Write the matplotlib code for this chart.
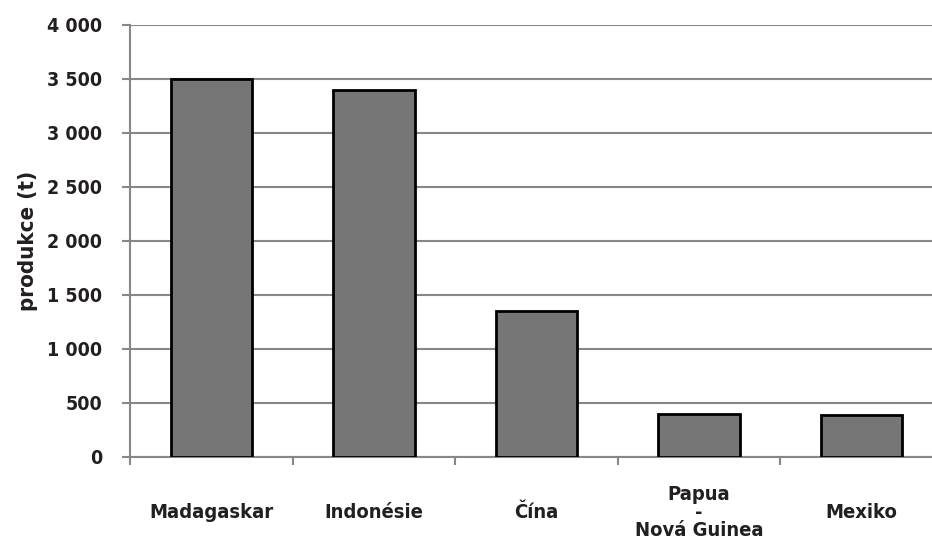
import numpy as np
import matplotlib.pyplot as plt

zeme = ["Madagaskar", "Indonésie", "Čína", "Papua\n-\nNová Guinea", "Mexiko"]
produkce = [3500, 3400, 1350, 400, 390]
y_ticks = [0, 500, 1000, 1500, 2000, 2500, 3000, 3500, 4000]
y_labels = ["0", "500", "1 000", "1 500", "2 000", "2 500", "3 000", "3 500", "4 000"]

plt.rcParams['font.family'] = ['DejaVu Sans']
plt.rcParams['font.weight'] = 'bold'
plt.rcParams['font.stretch'] = 'condensed'

grey = "#878787"
txt = "#231f20"
fig = plt.figure(figsize=(9.32, 5.41), dpi=100)
ax = fig.add_axes([130/932, 84/541, 813/932, 432/541])

x = np.arange(len(zeme))
ax.set_axisbelow(True)
ax.bar(x, produkce, width=0.5, color="#757675", edgecolor="black", linewidth=2, zorder=3)

ax.set_xlim(-0.5, len(zeme) - 0.5)
ax.set_ylim(0, 4000)
ax.set_yticks(y_ticks)
ax.set_yticklabels(y_labels, fontsize=14, fontweight='bold', color=txt)
ax.yaxis.grid(True, color=grey, linewidth=1.5)
ax.tick_params(axis='y', length=6, width=1.5, color=grey, pad=14)

ax.set_xticks(x)
ax.set_xticklabels(zeme, fontsize=14.5, fontweight='bold', color=txt, linespacing=0.95)
for lbl in ax.get_xticklabels():
    lbl.set_verticalalignment('center')
ax.tick_params(axis='x', which='major', length=0, pad=40)
ax.set_xticks(np.arange(-0.5, len(zeme)), minor=True)
ax.tick_params(axis='x', which='minor', length=6, width=1.5, color=grey)

for s in ['top', 'right']:
    ax.spines[s].set_visible(False)
for s in ['left', 'bottom']:
    ax.spines[s].set_color(grey)
    ax.spines[s].set_linewidth(1.5)

ax.set_ylabel("produkce (t)", fontsize=16, fontweight='bold', color=txt, va='center')
ax.yaxis.set_label_coords(-102/813, 0.5)

fig.savefig("out.png", dpi=100)
